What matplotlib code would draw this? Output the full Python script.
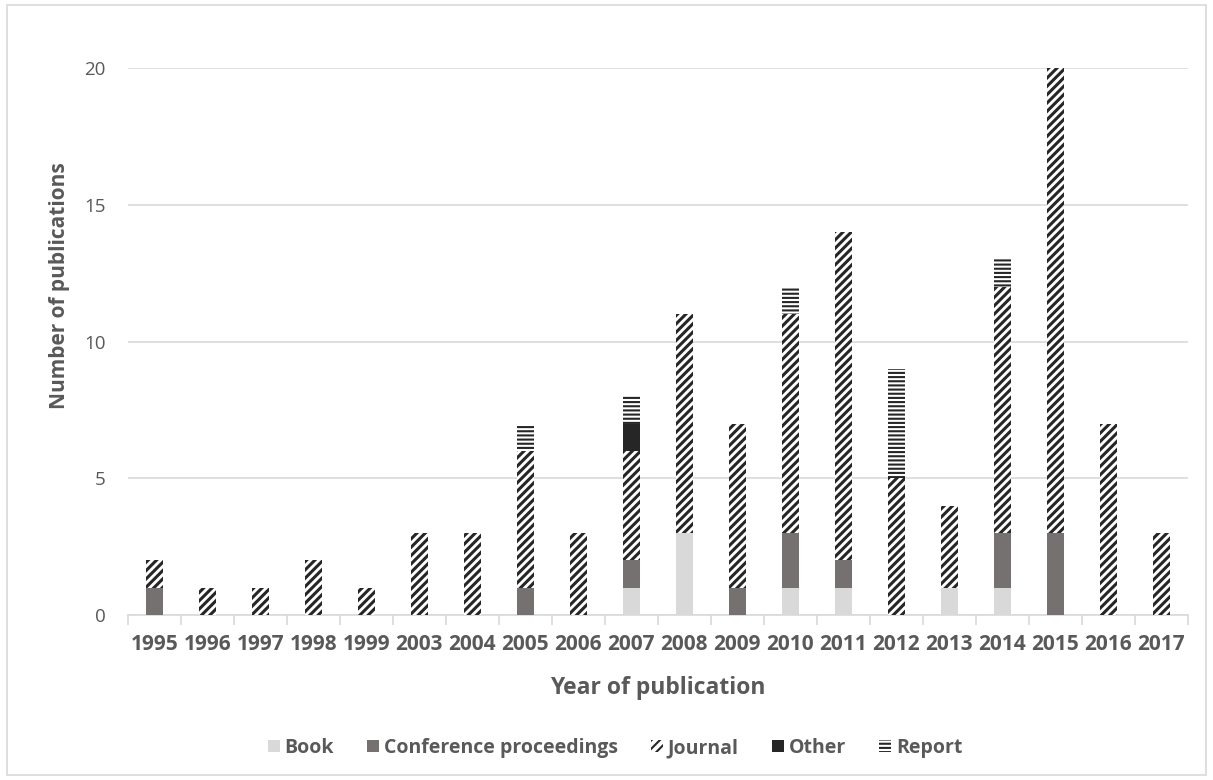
import numpy as np
import matplotlib.pyplot as plt
from matplotlib.patches import Rectangle

plt.rcParams['font.family'] = ['Open Sans', 'DejaVu Sans']

years = ['1995', '1996', '1997', '1998', '1999', '2003', '2004', '2005', '2006', '2007',
         '2008', '2009', '2010', '2011', '2012', '2013', '2014', '2015', '2016', '2017']
book = [0, 0, 0, 0, 0, 0, 0, 0, 0, 1, 3, 0, 1, 1, 0, 1, 1, 0, 0, 0]
conference = [1, 0, 0, 0, 0, 0, 0, 1, 0, 1, 0, 1, 2, 1, 0, 0, 2, 3, 0, 0]
journal = [1, 1, 1, 2, 1, 3, 3, 5, 3, 4, 8, 6, 8, 12, 5, 3, 9, 17, 7, 3]
other = [0, 0, 0, 0, 0, 0, 0, 0, 0, 1, 0, 0, 0, 0, 0, 0, 0, 0, 0, 0]
report = [0, 0, 0, 0, 0, 0, 0, 1, 0, 1, 0, 0, 1, 0, 4, 0, 1, 0, 0, 0]

# name, values, bar style, hatch line width
series = [
    ('Book', book, dict(color='#d9d9d9'), 1.0),
    ('Conference proceedings', conference, dict(color='#767171'), 1.0),
    ('Journal', journal, dict(facecolor='white', edgecolor='#262626', hatch='////'), 2.2),
    ('Other', other, dict(color='#262626'), 1.0),
    ('Report', report, dict(facecolor='white', edgecolor='#262626', hatch='----'), 1.5),
]

fig = plt.figure(figsize=(12.13, 7.8), dpi=100)
ax = fig.add_axes([0.1055, 0.2115, 0.8735, 0.7013])

x = np.arange(len(years))
bottom = np.zeros(len(years))
for name, vals, style, hlw in series:
    plt.rcParams['hatch.linewidth'] = hlw
    vals = np.array(vals, dtype=float)
    ax.bar(x, vals, 0.32, bottom=bottom, label=name, linewidth=0, zorder=3, **style)
    bottom += vals

ax.set_xlim(-0.5, len(years) - 0.5)
ax.set_ylim(0, 20)
ax.set_yticks([0, 5, 10, 15, 20])
ax.yaxis.grid(True, color='#d9d9d9', linewidth=1.2, zorder=0)
ax.set_xticks(x)
ax.set_xticklabels(years, fontsize=15, fontweight='bold', color='#595959')
ax.set_xticks(np.arange(-0.5, len(years)), minor=True)
ax.tick_params(axis='x', which='major', length=0, pad=14)
ax.tick_params(axis='x', which='minor', length=7, color='#d9d9d9', width=1.2)
ax.tick_params(axis='y', length=0, labelsize=13.5, labelcolor='#595959', pad=16)
for s in ['top', 'right', 'left']:
    ax.spines[s].set_visible(False)
ax.spines['bottom'].set_color('#d9d9d9')
ax.spines['bottom'].set_linewidth(1.2)

ax.set_xlabel('Year of publication', fontsize=16.5, fontweight='bold', color='#595959', labelpad=15)
ax.set_ylabel('Number of publications', fontsize=15, fontweight='bold', color='#595959')
ax.yaxis.set_label_coords(-0.055, 0.603)

leg = fig.legend(loc='center', bbox_to_anchor=(0.507, 0.041), ncol=5, frameon=False,
                 prop=dict(size=14, weight='bold'), handlelength=0.62, handleheight=0.62,
                 columnspacing=1.7, handletextpad=0.25)
for t in leg.get_texts():
    t.set_color('#595959')

# light frame around the whole chart
fig.patches.append(Rectangle((0.006, 0.006), 0.988, 0.988, transform=fig.transFigure,
                             fill=False, edgecolor='#d9d9d9', linewidth=1.2))

fig.savefig('out.png', dpi=100)
